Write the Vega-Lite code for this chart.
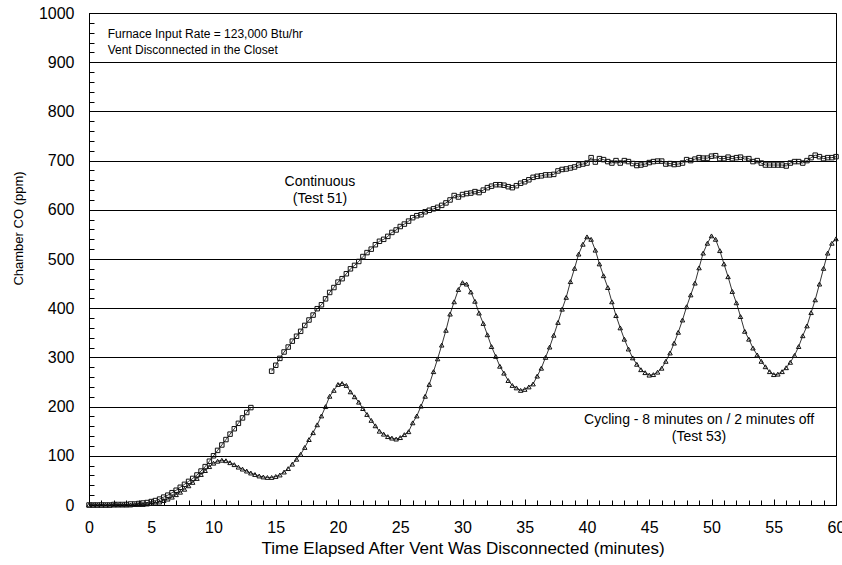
{
"$schema": "https://vega.github.io/schema/vega-lite/v6.json",
"width": 747, "height": 492,
"autosize": {"type": "none"},
"padding": {"left": 89, "top": 13, "right": 6, "bottom": 60},
"background": "white",
"config": {
  "view": {"stroke": "black", "strokeWidth": 1},
  "font": "Liberation Sans",
  "axis": {"domainColor": "black", "tickColor": "black", "labelColor": "black", "titleColor": "black", "titleFontWeight": "normal", "labelFont": "Liberation Sans", "titleFont": "Liberation Sans", "labelOverlap": false, "labelFlush": false, "labelBound": false}
},
"resolve": {"axis": {"x": "independent", "y": "independent"}},
"datasets": {
  "co": [
{"t":0,"Continuous":0,"Cycling":0},{"t":0.33,"Continuous":0,"Cycling":0},{"t":0.67,"Continuous":0,"Cycling":0},{"t":1,"Continuous":0,"Cycling":0},{"t":1.33,"Continuous":0,"Cycling":0},{"t":1.67,"Continuous":0,"Cycling":0},{"t":2,"Continuous":1,"Cycling":0},{"t":2.33,"Continuous":1,"Cycling":0},{"t":2.67,"Continuous":1,"Cycling":0},{"t":3,"Continuous":1,"Cycling":0},
{"t":3.33,"Continuous":2,"Cycling":0},{"t":3.67,"Continuous":2,"Cycling":1},{"t":4,"Continuous":3,"Cycling":1},{"t":4.33,"Continuous":4,"Cycling":1},{"t":4.67,"Continuous":5,"Cycling":2},{"t":5,"Continuous":7,"Cycling":3},{"t":5.33,"Continuous":9,"Cycling":4},{"t":5.67,"Continuous":12,"Cycling":6},{"t":6,"Continuous":16,"Cycling":9},{"t":6.33,"Continuous":20,"Cycling":12},
{"t":6.67,"Continuous":25,"Cycling":16},{"t":7,"Continuous":30,"Cycling":21},{"t":7.33,"Continuous":36,"Cycling":26},{"t":7.67,"Continuous":42,"Cycling":32},{"t":8,"Continuous":48,"Cycling":39},{"t":8.33,"Continuous":54,"Cycling":46},{"t":8.67,"Continuous":61,"Cycling":54},{"t":9,"Continuous":69,"Cycling":62},{"t":9.33,"Continuous":78,"Cycling":70},{"t":9.67,"Continuous":89,"Cycling":78},
{"t":10,"Continuous":100,"Cycling":85},{"t":10.33,"Continuous":111,"Cycling":89},{"t":10.67,"Continuous":122,"Cycling":91},{"t":11,"Continuous":133,"Cycling":90},{"t":11.33,"Continuous":144,"Cycling":86},{"t":11.67,"Continuous":155,"Cycling":82},{"t":12,"Continuous":166,"Cycling":77},{"t":12.33,"Continuous":177,"Cycling":73},{"t":12.67,"Continuous":188,"Cycling":69},{"t":13,"Continuous":198,"Cycling":65},
{"t":13.33,"Continuous":null,"Cycling":62},{"t":13.67,"Continuous":null,"Cycling":59},{"t":14,"Continuous":null,"Cycling":57},{"t":14.33,"Continuous":null,"Cycling":56},{"t":14.67,"Continuous":272,"Cycling":56},{"t":15,"Continuous":284,"Cycling":58},{"t":15.33,"Continuous":298,"Cycling":61},{"t":15.67,"Continuous":311,"Cycling":67},{"t":16,"Continuous":321,"Cycling":74},{"t":16.33,"Continuous":333,"Cycling":83},
{"t":16.67,"Continuous":343,"Cycling":93},{"t":17,"Continuous":353,"Cycling":103},{"t":17.33,"Continuous":365,"Cycling":117},{"t":17.67,"Continuous":376,"Cycling":133},{"t":18,"Continuous":386,"Cycling":147},{"t":18.33,"Continuous":399,"Cycling":163},{"t":18.67,"Continuous":407,"Cycling":181},{"t":19,"Continuous":419,"Cycling":200},{"t":19.33,"Continuous":432,"Cycling":221},{"t":19.67,"Continuous":442,"Cycling":233},
{"t":20,"Continuous":453,"Cycling":245},{"t":20.33,"Continuous":460,"Cycling":247},{"t":20.67,"Continuous":470,"Cycling":243},{"t":21,"Continuous":480,"Cycling":230},{"t":21.33,"Continuous":487,"Cycling":220},{"t":21.67,"Continuous":495,"Cycling":209},{"t":22,"Continuous":505,"Cycling":196},{"t":22.33,"Continuous":513,"Cycling":184},{"t":22.67,"Continuous":520,"Cycling":172},{"t":23,"Continuous":529,"Cycling":161},
{"t":23.33,"Continuous":536,"Cycling":150},{"t":23.67,"Continuous":540,"Cycling":144},{"t":24,"Continuous":546,"Cycling":139},{"t":24.33,"Continuous":554,"Cycling":136},{"t":24.67,"Continuous":559,"Cycling":134},{"t":25,"Continuous":566,"Cycling":137},{"t":25.33,"Continuous":571,"Cycling":143},{"t":25.67,"Continuous":577,"Cycling":149},{"t":26,"Continuous":584,"Cycling":167},{"t":26.33,"Continuous":588,"Cycling":181},
{"t":26.67,"Continuous":590,"Cycling":201},{"t":27,"Continuous":596,"Cycling":221},{"t":27.33,"Continuous":599,"Cycling":245},{"t":27.67,"Continuous":602,"Cycling":271},{"t":28,"Continuous":605,"Cycling":297},{"t":28.33,"Continuous":609,"Cycling":325},{"t":28.67,"Continuous":614,"Cycling":355},{"t":29,"Continuous":620,"Cycling":388},{"t":29.33,"Continuous":629,"Cycling":413},{"t":29.67,"Continuous":626,"Cycling":438},
{"t":30,"Continuous":631,"Cycling":452},{"t":30.33,"Continuous":633,"Cycling":449},{"t":30.67,"Continuous":634,"Cycling":433},{"t":31,"Continuous":637,"Cycling":414},{"t":31.33,"Continuous":635,"Cycling":390},{"t":31.67,"Continuous":640,"Cycling":369},{"t":32,"Continuous":645,"Cycling":346},{"t":32.33,"Continuous":648,"Cycling":322},{"t":32.67,"Continuous":651,"Cycling":302},{"t":33,"Continuous":651,"Cycling":282},
{"t":33.33,"Continuous":650,"Cycling":268},{"t":33.67,"Continuous":647,"Cycling":253},{"t":34,"Continuous":645,"Cycling":243},{"t":34.33,"Continuous":649,"Cycling":238},{"t":34.67,"Continuous":654,"Cycling":233},{"t":35,"Continuous":657,"Cycling":235},{"t":35.33,"Continuous":661,"Cycling":240},{"t":35.67,"Continuous":666,"Cycling":246},{"t":36,"Continuous":668,"Cycling":262},{"t":36.33,"Continuous":669,"Cycling":278},
{"t":36.67,"Continuous":671,"Cycling":300},{"t":37,"Continuous":671,"Cycling":321},{"t":37.33,"Continuous":672,"Cycling":345},{"t":37.67,"Continuous":679,"Cycling":371},{"t":38,"Continuous":682,"Cycling":398},{"t":38.33,"Continuous":683,"Cycling":422},{"t":38.67,"Continuous":685,"Cycling":454},{"t":39,"Continuous":687,"Cycling":481},{"t":39.33,"Continuous":691,"Cycling":510},{"t":39.67,"Continuous":693,"Cycling":530},
{"t":40,"Continuous":695,"Cycling":545},{"t":40.33,"Continuous":706,"Cycling":540},{"t":40.67,"Continuous":697,"Cycling":518},{"t":41,"Continuous":704,"Cycling":490},{"t":41.33,"Continuous":702,"Cycling":466},{"t":41.67,"Continuous":698,"Cycling":442},{"t":42,"Continuous":695,"Cycling":413},{"t":42.33,"Continuous":700,"Cycling":385},{"t":42.67,"Continuous":695,"Cycling":360},{"t":43,"Continuous":700,"Cycling":337},
{"t":43.33,"Continuous":698,"Cycling":317},{"t":43.67,"Continuous":694,"Cycling":299},{"t":44,"Continuous":690,"Cycling":286},{"t":44.33,"Continuous":691,"Cycling":275},{"t":44.67,"Continuous":693,"Cycling":269},{"t":45,"Continuous":696,"Cycling":264},{"t":45.33,"Continuous":698,"Cycling":265},{"t":45.67,"Continuous":699,"Cycling":270},{"t":46,"Continuous":699,"Cycling":278},{"t":46.33,"Continuous":693,"Cycling":292},
{"t":46.67,"Continuous":694,"Cycling":309},{"t":47,"Continuous":692,"Cycling":329},{"t":47.33,"Continuous":693,"Cycling":351},{"t":47.67,"Continuous":695,"Cycling":376},{"t":48,"Continuous":702,"Cycling":403},{"t":48.33,"Continuous":700,"Cycling":427},{"t":48.67,"Continuous":703,"Cycling":451},{"t":49,"Continuous":706,"Cycling":482},{"t":49.33,"Continuous":705,"Cycling":512},{"t":49.67,"Continuous":705,"Cycling":532},
{"t":50,"Continuous":709,"Cycling":547},{"t":50.33,"Continuous":710,"Cycling":540},{"t":50.67,"Continuous":704,"Cycling":517},{"t":51,"Continuous":704,"Cycling":490},{"t":51.33,"Continuous":707,"Cycling":464},{"t":51.67,"Continuous":704,"Cycling":434},{"t":52,"Continuous":706,"Cycling":411},{"t":52.33,"Continuous":707,"Cycling":383},{"t":52.67,"Continuous":703,"Cycling":353},{"t":53,"Continuous":704,"Cycling":337},
{"t":53.33,"Continuous":698,"Cycling":319},{"t":53.67,"Continuous":700,"Cycling":305},{"t":54,"Continuous":695,"Cycling":292},{"t":54.33,"Continuous":691,"Cycling":281},{"t":54.67,"Continuous":691,"Cycling":271},{"t":55,"Continuous":691,"Cycling":265},{"t":55.33,"Continuous":691,"Cycling":266},{"t":55.67,"Continuous":691,"Cycling":271},{"t":56,"Continuous":689,"Cycling":279},{"t":56.33,"Continuous":695,"Cycling":290},
{"t":56.67,"Continuous":698,"Cycling":304},{"t":57,"Continuous":698,"Cycling":322},{"t":57.33,"Continuous":695,"Cycling":344},{"t":57.67,"Continuous":700,"Cycling":364},{"t":58,"Continuous":706,"Cycling":391},{"t":58.33,"Continuous":711,"Cycling":417},{"t":58.67,"Continuous":708,"Cycling":449},{"t":59,"Continuous":704,"Cycling":481},{"t":59.33,"Continuous":706,"Cycling":512},{"t":59.67,"Continuous":706,"Cycling":532},
{"t":60,"Continuous":708,"Cycling":541}
  ],
  "notesLeft": [
    {"x": 1.5, "y": 957, "label": "Furnace Input Rate = 123,000 Btu/hr"},
    {"x": 1.5, "y": 924, "label": "Vent Disconnected in the Closet"}
  ],
  "notesCenter": [
    {"x": 18.55, "y": 657, "label": "Continuous"},
    {"x": 18.55, "y": 621, "label": "(Test 51)"},
    {"x": 49.0, "y": 172, "label": "Cycling - 8 minutes on / 2 minutes off"},
    {"x": 49.0, "y": 139, "label": "(Test 53)"}
  ]
},
"layer": [
  {
    "data": {"name": "co"},
    "transform": [{"fold": ["Continuous", "Cycling"], "as": ["series", "ppm"]}],
    "mark": {"type": "line", "color": "black", "strokeWidth": 0.8, "invalid": "break-paths-filter-domains"},
    "encoding": {
      "x": {"field": "t", "type": "quantitative", "scale": {"domain": [0, 60], "nice": false},
        "axis": {"orient": "bottom", "values": [0,5,10,15,20,25,30,35,40,45,50,55,60], "format": "d", "tickSize": -6, "labelFontSize": 16, "labelPadding": 20, "grid": false,
          "title": "Time Elapsed After Vent Was Disconnected (minutes)", "titleFontSize": 17, "titleY": 35, "titleBaseline": "top"}},
      "y": {"field": "ppm", "type": "quantitative", "scale": {"domain": [0, 1000], "nice": false},
        "axis": {"orient": "left", "values": [0,100,200,300,400,500,600,700,800,900,1000], "format": "d", "tickSize": -6, "labelFontSize": 16, "labelPadding": 21, "grid": true, "gridColor": "black", "gridWidth": 1, "gridOpacity": 1,
          "title": "Chamber CO (ppm)", "titleFontSize": 13, "titleX": -71, "titleY": 215, "titleAngle": -90, "titleAlign": "center", "titleBaseline": "middle"}},
      "detail": {"field": "series"}
    }
  },
  {
    "data": {"name": "co"},
    "transform": [{"fold": ["Continuous", "Cycling"], "as": ["series", "ppm"]}, {"filter": "datum.ppm != null"}],
    "mark": {"type": "point", "filled": false, "stroke": "#111", "strokeWidth": 1, "size": 20, "opacity": 1},
    "encoding": {
      "x": {"field": "t", "type": "quantitative",
        "axis": {"orient": "bottom", "values": [0,1,2,3,4,5,6,7,8,9,10,11,12,13,14,15,16,17,18,19,20,21,22,23,24,25,26,27,28,29,30,31,32,33,34,35,36,37,38,39,40,41,42,43,44,45,46,47,48,49,50,51,52,53,54,55,56,57,58,59,60],
          "labels": false, "domain": false, "grid": false, "tickSize": -5, "title": null}},
      "y": {"field": "ppm", "type": "quantitative",
        "axis": {"orient": "left", "values": [0,20,40,60,80,100,120,140,160,180,200,220,240,260,280,300,320,340,360,380,400,420,440,460,480,500,520,540,560,580,600,620,640,660,680,700,720,740,760,780,800,820,840,860,880,900,920,940,960,980,1000],
          "labels": false, "domain": false, "grid": false, "tickSize": -5, "title": null}},
      "shape": {"field": "series", "type": "nominal", "scale": {"domain": ["Continuous", "Cycling"], "range": ["square", "triangle-up"]}, "legend": null}
    }
  },
  {
    "data": {"name": "notesLeft"},
    "mark": {"type": "text", "align": "left", "baseline": "middle", "fontSize": 12, "font": "Liberation Sans", "color": "black"},
    "encoding": {"x": {"field": "x", "type": "quantitative", "axis": null}, "y": {"field": "y", "type": "quantitative", "axis": null}, "text": {"field": "label"}}
  },
  {
    "data": {"name": "notesCenter"},
    "mark": {"type": "text", "align": "center", "baseline": "middle", "fontSize": 14, "font": "Liberation Sans", "color": "black"},
    "encoding": {"x": {"field": "x", "type": "quantitative", "axis": null}, "y": {"field": "y", "type": "quantitative", "axis": null}, "text": {"field": "label"}}
  }
]
}
